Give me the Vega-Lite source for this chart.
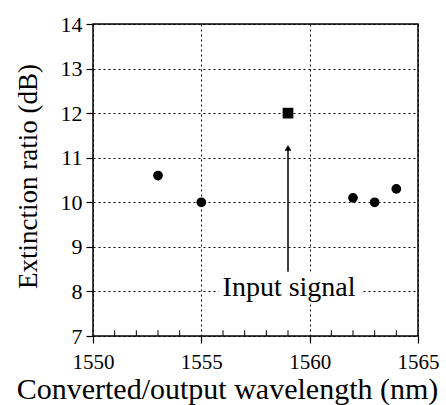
{
  "$schema": "https://vega.github.io/schema/vega-lite/v6.json",
  "width": 325,
  "height": 312,
  "autosize": {"type": "none"},
  "padding": {"left": 93, "top": 24, "right": 28, "bottom": 69},
  "background": "white",
  "config": {
    "font": "Liberation Serif",
    "view": {"stroke": "black", "strokeWidth": 1.5}
  },
  "datasets": {
    "points": [
      {"wl": 1553, "er": 10.6, "kind": "converted"},
      {"wl": 1555, "er": 10.0, "kind": "converted"},
      {"wl": 1559, "er": 12.0, "kind": "input"},
      {"wl": 1562, "er": 10.1, "kind": "converted"},
      {"wl": 1563, "er": 10.0, "kind": "converted"},
      {"wl": 1564, "er": 10.3, "kind": "converted"}
    ],
    "minor": [
      {"wl": 1551, "er": 7, "er2": 7.13},
      {"wl": 1552, "er": 7, "er2": 7.13},
      {"wl": 1553, "er": 7, "er2": 7.13},
      {"wl": 1554, "er": 7, "er2": 7.13},
      {"wl": 1556, "er": 7, "er2": 7.13},
      {"wl": 1557, "er": 7, "er2": 7.13},
      {"wl": 1558, "er": 7, "er2": 7.13},
      {"wl": 1559, "er": 7, "er2": 7.13},
      {"wl": 1561, "er": 7, "er2": 7.13},
      {"wl": 1562, "er": 7, "er2": 7.13},
      {"wl": 1563, "er": 7, "er2": 7.13},
      {"wl": 1564, "er": 7, "er2": 7.13}
    ],
    "labelbox": [{"wl": 1555.8, "wl2": 1562.4, "er": 7.74, "er2": 8.44}],
    "shaft": [{"wl": 1559, "er": 8.44, "er2": 11.2}],
    "head": [{"wl": 1559, "er": 11.22}],
    "note": [{"wl": 1559.05, "er": 8.08, "label": "Input signal"}]
  },
  "encoding": {
    "x": {
      "field": "wl",
      "type": "quantitative",
      "scale": {"domain": [1550, 1565], "nice": false, "zero": false},
      "axis": {
        "title": "Converted/output wavelength (nm)",
        "values": [1550, 1555, 1560, 1565],
        "format": "d",
        "grid": true,
        "gridColor": "black",
        "gridDash": [2, 3],
        "gridOpacity": 1,
        "gridWidth": 1,
        "domain": false,
        "tickColor": "black",
        "tickSize": 7,
        "tickWidth": 1.2,
        "labelFont": "Liberation Serif",
        "labelFontSize": 21,
        "labelColor": "black",
        "labelPadding": 8,
        "labelFlush": false,
        "titleFont": "Liberation Serif",
        "titleFontSize": 30,
        "titleFontWeight": "normal",
        "titleColor": "black",
        "titleX": 134,
        "titleY": 62,
        "titleAlign": "center",
        "titleBaseline": "alphabetic"
      }
    },
    "y": {
      "field": "er",
      "type": "quantitative",
      "scale": {"domain": [7, 14], "nice": false, "zero": false},
      "axis": {
        "title": "Extinction ratio (dB)",
        "values": [7, 8, 9, 10, 11, 12, 13, 14],
        "grid": true,
        "gridColor": "black",
        "gridDash": [2, 3],
        "gridOpacity": 1,
        "gridWidth": 1,
        "domain": false,
        "tickColor": "black",
        "tickSize": 7,
        "tickWidth": 1.2,
        "labelFont": "Liberation Serif",
        "labelFontSize": 22,
        "labelColor": "black",
        "labelPadding": 4,
        "labelFlush": false,
        "titleFont": "Liberation Serif",
        "titleFontSize": 27,
        "titleFontWeight": "normal",
        "titleColor": "black",
        "titleX": -57,
        "titleY": 152,
        "titleAlign": "center",
        "titleBaseline": "alphabetic"
      }
    }
  },
  "layer": [
    {
      "data": {"name": "labelbox"},
      "mark": {"type": "rect", "fill": "white", "stroke": null},
      "encoding": {"x2": {"field": "wl2"}, "y2": {"field": "er2"}}
    },
    {
      "data": {"name": "minor"},
      "mark": {"type": "rule", "color": "black", "strokeWidth": 1},
      "encoding": {"y2": {"field": "er2"}}
    },
    {
      "data": {"name": "shaft"},
      "mark": {"type": "rule", "color": "black", "strokeWidth": 1.5},
      "encoding": {"y2": {"field": "er2"}}
    },
    {
      "data": {"name": "head"},
      "mark": {"type": "point", "shape": "triangle-up", "filled": true, "color": "black", "size": 45, "opacity": 1}
    },
    {
      "data": {"name": "points"},
      "mark": {"type": "point", "filled": true, "color": "black", "opacity": 1},
      "encoding": {
        "shape": {"field": "kind", "type": "nominal", "scale": {"domain": ["converted", "input"], "range": ["circle", "square"]}, "legend": null},
        "size": {"field": "kind", "type": "nominal", "scale": {"domain": ["converted", "input"], "range": [95, 115]}, "legend": null}
      }
    },
    {
      "data": {"name": "note"},
      "mark": {"type": "text", "font": "Liberation Serif", "fontSize": 28, "color": "black", "align": "center", "baseline": "middle"},
      "encoding": {"text": {"field": "label"}}
    }
  ]
}
